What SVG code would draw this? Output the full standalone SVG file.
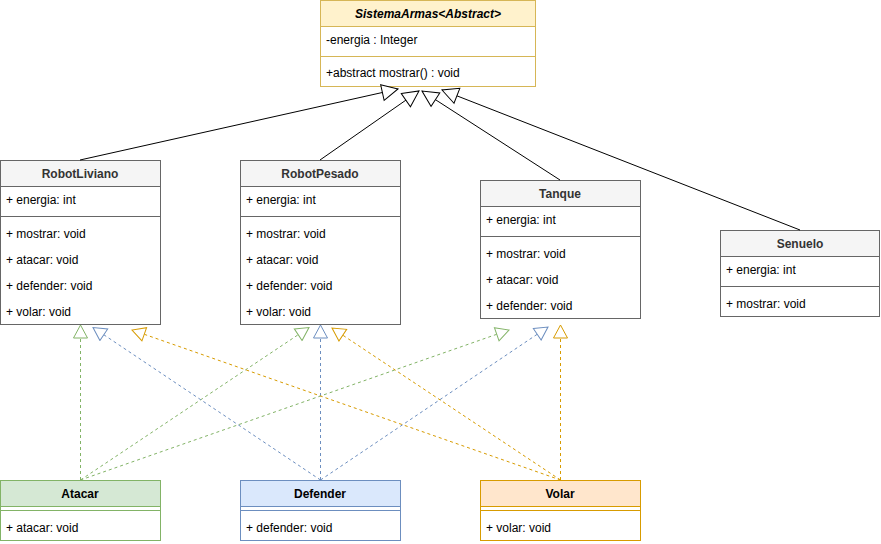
<svg xmlns="http://www.w3.org/2000/svg" width="881" height="544" viewBox="0 0 881 544">
  <style>
    text { font-family: "Liberation Sans", Arial, sans-serif; font-size: 12px; fill: #000; }
    .title { font-weight: bold; text-anchor: middle; }
    .gray .title { fill: #333333; }
    .gray rect, .gray line { stroke: #666666; }
    .gray .head { fill: #f5f5f5; }
    .body { fill: #ffffff; }
    .abs rect, .abs line { stroke: #d6b656; }
    .abs .head { fill: #fff2cc; }
    .green rect, .green line { stroke: #82b366; }
    .green .head { fill: #d5e8d4; }
    .blue rect, .blue line { stroke: #6c8ebf; }
    .blue .head { fill: #dae8fc; }
    .orange rect, .orange line { stroke: #d79b00; }
    .orange .head { fill: #ffe6cc; }
    rect, line { stroke-width: 1; }
    .inherit { stroke: #000; fill: none; marker-end: url(#tri-black); }
    .real { fill: none; stroke-dasharray: 3 3; }
    .real.g { stroke: #82b366; marker-end: url(#tri-green); }
    .real.b { stroke: #6c8ebf; marker-end: url(#tri-blue); }
    .real.o { stroke: #d79b00; marker-end: url(#tri-orange); }
  </style>
  <defs>
    <marker id="tri-black" markerUnits="userSpaceOnUse" markerWidth="20" markerHeight="20" refX="17" refY="9" orient="auto">
      <path d="M1,1 L17,9 L1,17 Z" fill="#ffffff" stroke="#000000" stroke-dasharray="none"/>
    </marker>
    <marker id="tri-green" markerUnits="userSpaceOnUse" markerWidth="16" markerHeight="16" refX="14" refY="8" orient="auto">
      <path d="M1,1 L14,8 L1,15 Z" fill="#ffffff" stroke="#82b366" stroke-dasharray="none"/>
    </marker>
    <marker id="tri-blue" markerUnits="userSpaceOnUse" markerWidth="16" markerHeight="16" refX="14" refY="8" orient="auto">
      <path d="M1,1 L14,8 L1,15 Z" fill="#ffffff" stroke="#6c8ebf" stroke-dasharray="none"/>
    </marker>
    <marker id="tri-orange" markerUnits="userSpaceOnUse" markerWidth="16" markerHeight="16" refX="14" refY="8" orient="auto">
      <path d="M1,1 L14,8 L1,15 Z" fill="#ffffff" stroke="#d79b00" stroke-dasharray="none"/>
    </marker>
  </defs>

  <!-- abstract base class -->
  <g id="SistemaArmas" class="abs">
    <rect class="body" x="320.5" y="0.5" width="215" height="86"/>
    <rect class="head" x="320.5" y="0.5" width="215" height="26"/>
    <text class="title" x="428" y="18" font-style="italic">SistemaArmas&lt;Abstract&gt;</text>
    <text x="326" y="44">-energia : Integer</text>
    <line x1="320.5" y1="56.5" x2="535.5" y2="56.5"/>
    <text x="326" y="77">+abstract mostrar() : void</text>
  </g>

  <g id="RobotLiviano" class="gray">
    <rect class="body" x="0.5" y="160.5" width="160" height="164"/>
    <rect class="head" x="0.5" y="160.5" width="160" height="26"/>
    <text class="title" x="80" y="178">RobotLiviano</text>
    <text x="6" y="204">+ energia: int</text>
    <line x1="0.5" y1="216.5" x2="160.5" y2="216.5"/>
    <text x="6" y="238">+ mostrar: void</text>
    <text x="6" y="264">+ atacar: void</text>
    <text x="6" y="290">+ defender: void</text>
    <text x="6" y="316">+ volar: void</text>
  </g>

  <g id="RobotPesado" class="gray">
    <rect class="body" x="240.5" y="160.5" width="160" height="164"/>
    <rect class="head" x="240.5" y="160.5" width="160" height="26"/>
    <text class="title" x="320" y="178">RobotPesado</text>
    <text x="246" y="204">+ energia: int</text>
    <line x1="240.5" y1="216.5" x2="400.5" y2="216.5"/>
    <text x="246" y="238">+ mostrar: void</text>
    <text x="246" y="264">+ atacar: void</text>
    <text x="246" y="290">+ defender: void</text>
    <text x="246" y="316">+ volar: void</text>
  </g>

  <g id="Tanque" class="gray">
    <rect class="body" x="480.5" y="180.5" width="160" height="138"/>
    <rect class="head" x="480.5" y="180.5" width="160" height="26"/>
    <text class="title" x="560" y="198">Tanque</text>
    <text x="486" y="224">+ energia: int</text>
    <line x1="480.5" y1="236.5" x2="640.5" y2="236.5"/>
    <text x="486" y="258">+ mostrar: void</text>
    <text x="486" y="284">+ atacar: void</text>
    <text x="486" y="310">+ defender: void</text>
  </g>

  <g id="Senuelo" class="gray">
    <rect class="body" x="720.5" y="230.5" width="159" height="86"/>
    <rect class="head" x="720.5" y="230.5" width="159" height="26"/>
    <text class="title" x="800" y="248">Senuelo</text>
    <text x="726" y="274">+ energia: int</text>
    <line x1="720.5" y1="286.5" x2="879.5" y2="286.5"/>
    <text x="726" y="308">+ mostrar: void</text>
  </g>

  <!-- interfaces -->
  <g id="Atacar" class="green">
    <rect class="body" x="0.5" y="480.5" width="160" height="60"/>
    <rect class="head" x="0.5" y="480.5" width="160" height="26"/>
    <text class="title" x="80" y="498">Atacar</text>
    <line x1="0.5" y1="510.5" x2="160.5" y2="510.5"/>
    <text x="6" y="532">+ atacar: void</text>
  </g>

  <g id="Defender" class="blue">
    <rect class="body" x="240.5" y="480.5" width="160" height="60"/>
    <rect class="head" x="240.5" y="480.5" width="160" height="26"/>
    <text class="title" x="320" y="498">Defender</text>
    <line x1="240.5" y1="510.5" x2="400.5" y2="510.5"/>
    <text x="246" y="532">+ defender: void</text>
  </g>

  <g id="Volar" class="orange">
    <rect class="body" x="480.5" y="480.5" width="160" height="60"/>
    <rect class="head" x="480.5" y="480.5" width="160" height="26"/>
    <text class="title" x="560" y="498">Volar</text>
    <line x1="480.5" y1="510.5" x2="640.5" y2="510.5"/>
    <text x="486" y="532">+ volar: void</text>
  </g>

  <!-- connectors: generalization and realization -->
  <g id="connectors">
    <path class="inherit" d="M80,160 L398,89"/>
    <path class="inherit" d="M320,160 L419,91"/>
    <path class="inherit" d="M560,180 L422,91"/>
    <path class="inherit" d="M800,230 L442,90"/>

    <path class="real g" d="M80.5,480 L80.5,325"/>
    <path class="real g" d="M80.5,480 L309,327.5"/>
    <path class="real g" d="M80.5,480 L509,330"/>

    <path class="real b" d="M320.5,480 L93,327.5"/>
    <path class="real b" d="M320.5,480 L320.5,325"/>
    <path class="real b" d="M320.5,480 L548,327"/>

    <path class="real o" d="M560.5,480 L132,330"/>
    <path class="real o" d="M560.5,480 L332,328"/>
    <path class="real o" d="M560.5,480 L560.5,325"/>
  </g>
</svg>
